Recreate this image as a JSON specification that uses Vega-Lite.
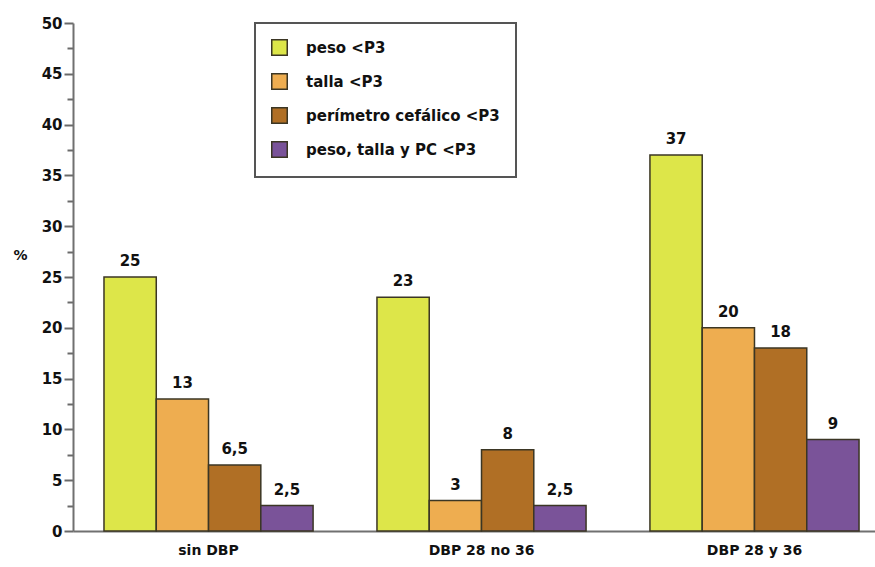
{
  "$schema": "https://vega.github.io/schema/vega-lite/v6.json",
  "width": 802,
  "height": 508,
  "autosize": "none",
  "padding": {"left": 73, "top": 23, "right": 0, "bottom": 36},
  "background": "white",
  "data": {
    "values": [
      {"grupo": "sin DBP", "medida": "peso <P3", "valor": 25},
      {"grupo": "sin DBP", "medida": "talla <P3", "valor": 13},
      {"grupo": "sin DBP", "medida": "perímetro cefálico <P3", "valor": 6.5},
      {"grupo": "sin DBP", "medida": "peso, talla y PC <P3", "valor": 2.5},
      {"grupo": "DBP 28 no 36", "medida": "peso <P3", "valor": 23},
      {"grupo": "DBP 28 no 36", "medida": "talla <P3", "valor": 3},
      {"grupo": "DBP 28 no 36", "medida": "perímetro cefálico <P3", "valor": 8},
      {"grupo": "DBP 28 no 36", "medida": "peso, talla y PC <P3", "valor": 2.5},
      {"grupo": "DBP 28 y 36", "medida": "peso <P3", "valor": 37},
      {"grupo": "DBP 28 y 36", "medida": "talla <P3", "valor": 20},
      {"grupo": "DBP 28 y 36", "medida": "perímetro cefálico <P3", "valor": 18},
      {"grupo": "DBP 28 y 36", "medida": "peso, talla y PC <P3", "valor": 9}
    ]
  },
  "encoding": {
    "x": {
      "field": "grupo",
      "type": "nominal",
      "sort": ["sin DBP", "DBP 28 no 36", "DBP 28 y 36"],
      "scale": {"paddingInner": 0.234, "paddingOuter": 0.086, "align": 0.66},
      "axis": {
        "title": null,
        "labelAngle": 0,
        "ticks": false,
        "labelPadding": 12,
        "labelFont": "DejaVu Sans",
        "labelFontWeight": "bold",
        "labelFontSize": 14,
        "labelColor": "#111",
        "domainColor": "#707070",
        "domainWidth": 2
      }
    },
    "xOffset": {
      "field": "medida",
      "type": "nominal",
      "sort": ["peso <P3", "talla <P3", "perímetro cefálico <P3", "peso, talla y PC <P3"],
      "scale": {"paddingInner": 0, "paddingOuter": 0}
    },
    "y": {
      "field": "valor",
      "type": "quantitative",
      "scale": {"domain": [0, 50], "nice": false},
      "axis": {
        "title": "%",
        "titleAngle": 0,
        "titleX": -53,
        "titleY": 232,
        "titleAlign": "center",
        "titleBaseline": "middle",
        "titleFont": "DejaVu Sans",
        "titleFontWeight": "bold",
        "titleFontSize": 14,
        "titleColor": "#111",
        "values": [0, 2.5, 5, 7.5, 10, 12.5, 15, 17.5, 20, 22.5, 25, 27.5, 30, 32.5, 35, 37.5, 40, 42.5, 45, 47.5, 50],
        "labelExpr": "datum.value % 5 === 0 ? datum.label : ''",
        "grid": false,
        "tickSize": {"condition": {"test": "datum.value % 5 === 0", "value": 9}, "value": 6},
        "tickColor": "#6a6a6a",
        "tickWidth": 2,
        "labelPadding": 2,
        "labelFont": "DejaVu Sans",
        "labelFontWeight": "bold",
        "labelFontSize": 15,
        "labelColor": "#111",
        "domainColor": "#707070",
        "domainWidth": 2
      }
    }
  },
  "layer": [
    {
      "mark": {"type": "bar", "stroke": "#3b3624", "strokeWidth": 1.5, "opacity": 1},
      "encoding": {
        "color": {
          "field": "medida",
          "type": "nominal",
          "sort": ["peso <P3", "talla <P3", "perímetro cefálico <P3", "peso, talla y PC <P3"],
          "scale": {
            "domain": ["peso <P3", "talla <P3", "perímetro cefálico <P3", "peso, talla y PC <P3"],
            "range": ["#dde649", "#eead50", "#b06f25", "#7a5399"]
          },
          "legend": {
            "title": null,
            "orient": "none",
            "legendX": 182,
            "legendY": 0,
            "padding": 16,
            "fillColor": "white",
            "strokeColor": "#555555",
            "symbolType": "square",
            "symbolSize": 240,
            "symbolStrokeColor": "#3b3624",
            "symbolStrokeWidth": 1.5,
            "symbolOpacity": 1,
            "rowPadding": 11,
            "labelOffset": 18,
            "labelFont": "DejaVu Sans",
            "labelFontWeight": "bold",
            "labelFontSize": 15,
            "labelColor": "#111",
            "labelLimit": 300
          }
        }
      }
    },
    {
      "mark": {
        "type": "text",
        "baseline": "bottom",
        "dy": -8,
        "font": "DejaVu Sans",
        "fontWeight": "bold",
        "fontSize": 15,
        "color": "#111"
      },
      "encoding": {
        "text": {"field": "valor", "type": "quantitative", "format": ".1~f"}
      }
    }
  ],
  "config": {
    "view": {"stroke": null},
    "legend": {"strokeWidth": 2},
    "locale": {
      "number": {"decimal": ",", "thousands": ".", "grouping": [3], "currency": ["", " €"]}
    }
  }
}
